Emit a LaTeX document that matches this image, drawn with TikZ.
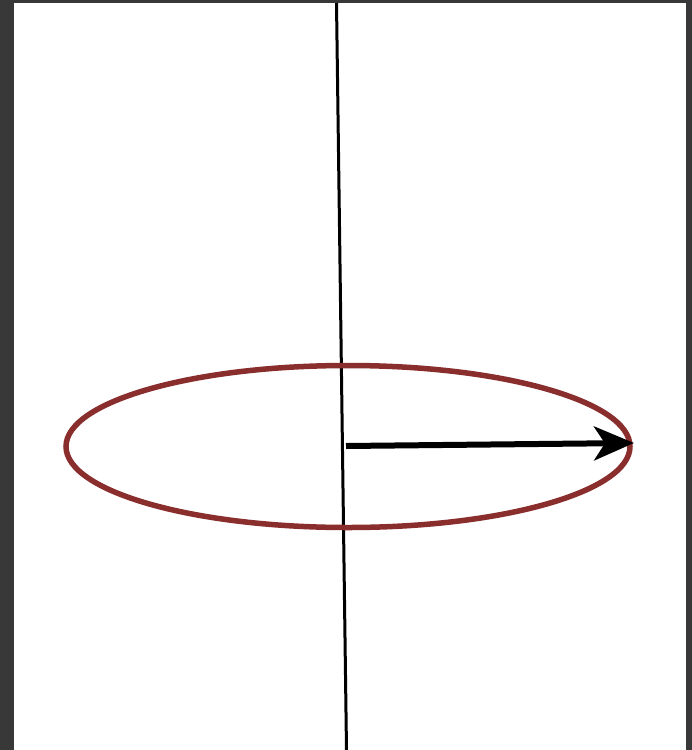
\documentclass[tikz,border=0pt]{standalone}
\usetikzlibrary{arrows.meta}
\definecolor{frame}{RGB}{56,56,56}
\definecolor{ring}{RGB}{137,45,45}
\begin{document}
\begin{tikzpicture}[x=1pt,y=-1pt]
\fill[frame] (0,0) rectangle (692,750);
\fill[white] (14,3) rectangle (686,750);
\useasboundingbox (0,0) rectangle (692,750);
\coordinate (axtop) at (336.5,3);
\coordinate (axbot) at (346.5,750);
\coordinate (ctr) at (346,446);
\coordinate (tip) at (634,443);
\draw[line width=3pt] (axtop) -- (axbot);
\draw[ring,line width=5.5pt] (348,446.5) ellipse (282 and 81);
\draw[line width=6pt,-{Stealth[length=40pt,width=34pt,inset=11pt]}] (ctr) -- (tip);
\end{tikzpicture}
\end{document}
